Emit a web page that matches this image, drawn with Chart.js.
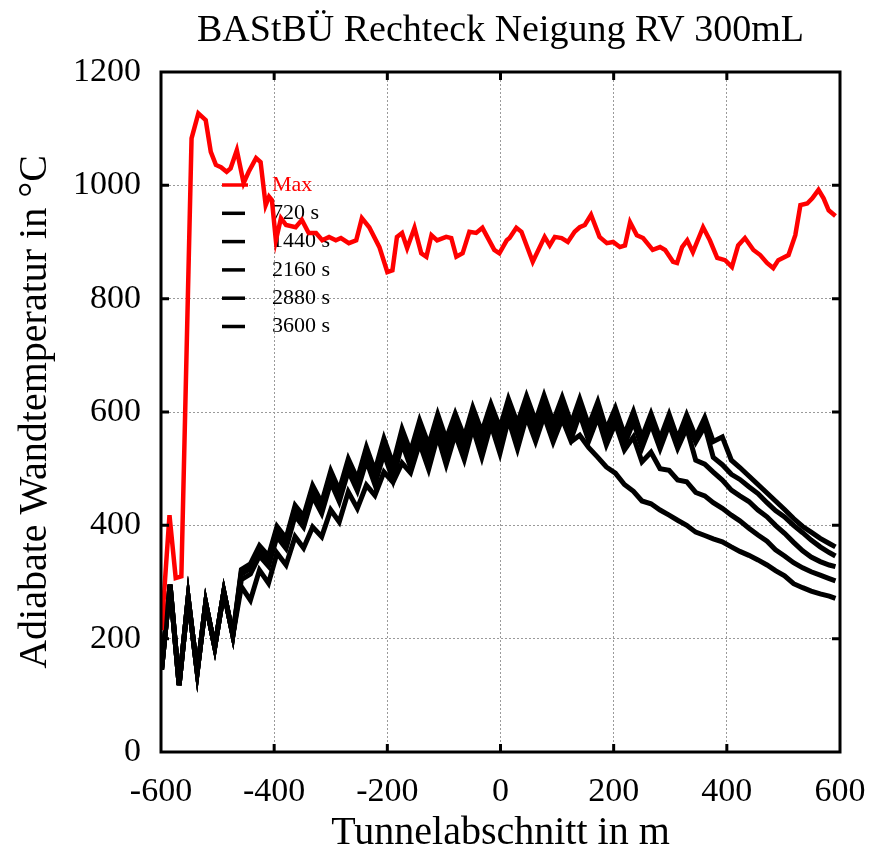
<!DOCTYPE html>
<html>
<head>
<meta charset="utf-8">
<script src="https://cdn.jsdelivr.net/npm/chart.js@4.4.1/dist/chart.umd.min.js"></script>
<style>
  html, body { margin: 0; padding: 0; background: #fff; }
</style>
</head>
<body>
<canvas id="chart" width="871" height="857"></canvas>
<script>
// Maximalwerte (rot)
const maxX = [-599, -585, -574, -564, -546, -534, -521, -512, -503, -494, -484, -477, -466, -454, -445, -432, -424, -415, -409, -404,
  -397, -388, -379, -362, -351, -339, -326, -315, -303, -291, -282, -268, -255, -245, -232, -214, -200, -191, -183, -174,
  -165, -152, -140, -131, -122, -112, -96, -87, -78, -67, -55, -43, -32, -11, -2, 11, 16, 28, 37, 57,
  78, 87, 96, 108, 119, 131, 140, 149, 160, 175, 188, 199, 211, 220, 229, 241, 252, 269, 282, 291,
  305, 312, 321, 330, 340, 358, 370, 383, 397, 409, 420, 432, 447, 459, 471, 482, 491, 509, 521, 530,
  542, 551, 562, 571, 580, 592];
const maxY = [215, 418, 307, 310, 1083, 1127, 1115, 1059, 1036, 1032, 1024, 1030, 1062, 1004, 1024, 1048, 1041, 965, 980, 974,
  903, 942, 930, 926, 939, 916, 916, 903, 909, 903, 907, 898, 903, 942, 926, 891, 847, 850, 909, 916,
  889, 925, 880, 874, 912, 903, 909, 907, 874, 880, 918, 916, 925, 886, 880, 903, 907, 925, 918, 865,
  909, 894, 909, 907, 900, 918, 926, 930, 948, 909, 898, 900, 891, 894, 935, 912, 907, 886, 891, 886,
  865, 863, 891, 903, 882, 926, 903, 872, 868, 856, 894, 907, 886, 877, 863, 854, 868, 877, 912, 965,
  968, 977, 992, 977, 956, 946];

// Zeitschnitte (schwarz), gemeinsame Stuetzstellen
const cellX = [-599, -584, -568, -552, -536, -521, -505, -489, -473, -458, -442, -426, -410, -395, -379, -363, -348, -332, -316, -300,
  -285, -269, -253, -237, -222, -206, -190, -174, -159, -143, -127, -111, -96, -80, -64, -49, -33, -17, -1, 14,
  30, 46, 62, 77, 93, 109, 125, 140, 156, 172, 187, 203, 219, 235, 250, 266, 282, 298, 313, 329,
  345, 361, 376, 392, 408, 423, 439, 455, 471, 486, 502, 518, 534, 549, 565, 581, 592];

const t720 = [145, 295, 118, 272, 141, 263, 185, 283, 206,
  292, 268, 321, 298, 351, 330, 380, 360, 397, 380, 427,
  406, 459, 430, 471, 453, 494, 476, 510, 493, 545,
  499, 558, 507, 561, 516, 572, 520, 578, 527, 587,
  535, 592, 548, 593, 547, 588, 548, 559, 537, 520,
  503, 492, 472, 460, 443, 438, 427, 418, 409, 400,
  388, 382, 376, 371, 362, 354, 347, 339, 330, 320,
  311, 297, 290, 284, 279, 275, 271];
const t1440 = [145, 295, 118, 272, 141, 263, 185, 283, 206,
  304, 314, 346, 328, 380, 359, 417, 397, 451, 421, 476,
  442, 496, 461, 514, 472, 527, 480, 545, 503, 558,
  515, 569, 525, 570, 529, 581, 538, 587, 545, 596,
  553, 601, 557, 602, 556, 599, 553, 596, 549, 591,
  542, 580, 533, 556, 512, 529, 500, 497, 480, 477,
  458, 452, 440, 430, 418, 408, 395, 383, 372, 357,
  346, 334, 325, 318, 312, 306, 302];
const t2160 = [145, 295, 118, 272, 141, 263, 185, 283, 206,
  314, 324, 356, 338, 390, 369, 427, 407, 461, 431, 486,
  452, 506, 471, 525, 483, 539, 493, 554, 512, 567,
  524, 578, 534, 579, 538, 590, 547, 596, 554, 605,
  562, 610, 566, 611, 565, 608, 562, 605, 558, 600,
  551, 589, 542, 583, 537, 579, 535, 578, 536, 572,
  515, 508, 494, 480, 462, 452, 442, 427, 415, 400,
  386, 370, 355, 344, 336, 330, 327];
const t2880 = [145, 295, 118, 272, 141, 263, 185, 283, 206,
  318, 328, 360, 342, 394, 373, 431, 411, 465, 435, 490,
  456, 510, 475, 530, 488, 545, 500, 561, 521, 576,
  533, 587, 543, 588, 547, 599, 556, 605, 563, 614,
  571, 619, 575, 620, 574, 617, 571, 614, 567, 609,
  560, 598, 551, 592, 546, 588, 544, 587, 544, 586,
  547, 575, 520, 507, 490, 481, 468, 456, 440, 426,
  415, 400, 387, 374, 362, 352, 346];
const t3600 = [145, 295, 118, 272, 141, 263, 185, 283, 206,
  322, 332, 364, 346, 398, 377, 435, 416, 470, 440, 496,
  462, 517, 482, 538, 496, 553, 508, 570, 530, 585,
  542, 596, 552, 597, 556, 608, 565, 614, 572, 623,
  580, 628, 584, 629, 583, 626, 580, 623, 576, 618,
  569, 607, 560, 601, 555, 597, 553, 596, 553, 595,
  556, 590, 548, 556, 515, 502, 487, 472, 457, 443,
  428, 412, 398, 388, 377, 368, 362];

const seriesNames = ['Max', '720 s', '1440 s', '2160 s', '2880 s', '3600 s'];
const xTicks = [-600, -400, -200, 0, 200, 400, 600];
const yTicks = [0, 200, 400, 600, 800, 1000, 1200];

const FONT = "'Liberation Serif', 'DejaVu Serif', serif";

const toPts = (xs, ys) => xs.map((x, i) => ({ x: x, y: ys[i] }));

const blackSeries = [t720, t1440, t2160, t2880, t3600];
const datasets = [{
  label: seriesNames[0],
  data: toPts(maxX, maxY),
  borderColor: '#ff0000',
  backgroundColor: '#ff0000',
  borderWidth: 4.5
}];
blackSeries.forEach((s, i) => {
  datasets.push({
    label: seriesNames[i + 1],
    data: toPts(cellX, s),
    borderColor: '#000000',
    backgroundColor: '#000000',
    borderWidth: 5
  });
});

// Rahmen, Innenticks, Legende, Titel
const decor = {
  id: 'decor',
  beforeDatasetsDraw(chart) {
    const ctx = chart.ctx;
    const lx = 222, ly = 185, row = 28.3;
    ctx.save();
    ctx.font = '22px ' + FONT;
    ctx.textBaseline = 'middle';
    ctx.textAlign = 'left';
    chart.data.datasets.forEach((ds, i) => {
      const y = ly + i * row;
      ctx.strokeStyle = ds.borderColor;
      ctx.lineWidth = 3.5;
      ctx.beginPath();
      ctx.moveTo(lx, y);
      ctx.lineTo(lx + (i === 0 ? 26 : 23), y);
      ctx.stroke();
      ctx.fillStyle = ds.borderColor;
      ctx.fillText(ds.label, 272, y);
    });
    ctx.restore();
  },
  afterDatasetsDraw(chart) {
    const ctx = chart.ctx;
    const a = chart.chartArea;
    const xs = chart.scales.x, ys = chart.scales.y;
    const tl = 8;
    ctx.save();
    ctx.strokeStyle = '#000';
    ctx.lineWidth = 3;
    ctx.beginPath();
    xTicks.slice(1, -1).forEach(v => {
      const px = xs.getPixelForValue(v);
      ctx.moveTo(px, a.bottom); ctx.lineTo(px, a.bottom - tl);
      ctx.moveTo(px, a.top); ctx.lineTo(px, a.top + tl);
    });
    yTicks.slice(1, -1).forEach(v => {
      const py = ys.getPixelForValue(v);
      ctx.moveTo(a.left, py); ctx.lineTo(a.left + tl, py);
      ctx.moveTo(a.right, py); ctx.lineTo(a.right - tl, py);
    });
    ctx.stroke();
    ctx.strokeRect(a.left, a.top, a.right - a.left, a.bottom - a.top);
    ctx.restore();
  },
  afterDraw(chart) {
    const ctx = chart.ctx;
    const a = chart.chartArea;
    ctx.save();
    ctx.font = '38px ' + FONT;
    ctx.fillStyle = '#000';
    ctx.textAlign = 'center';
    ctx.textBaseline = 'middle';
    ctx.fillText('BAStBÜ Rechteck Neigung RV 300mL', (a.left + a.right) / 2, 31);
    ctx.restore();
  }
};

const ctx = document.getElementById('chart').getContext('2d');
new Chart(ctx, {
  type: 'line',
  data: { datasets: datasets },
  plugins: [decor],
  options: {
    responsive: false,
    animation: false,
    devicePixelRatio: 1,
    layout: { padding: { top: 72, right: 31, left: 0, bottom: 0 } },
    elements: {
      point: { radius: 0, hoverRadius: 0 },
      line: { tension: 0 }
    },
    plugins: {
      legend: { display: false },
      tooltip: { enabled: false },
      title: { display: false }
    },
    scales: {
      x: {
        type: 'linear',
        min: -600,
        max: 600,
        afterBuildTicks: s => { s.ticks = xTicks.map(v => ({ value: v })); },
        afterFit: s => { s.height = 105; s.paddingLeft = 0; s.paddingRight = 0; },
        ticks: { color: '#000', font: { family: FONT, size: 34 }, padding: 20, maxRotation: 0, callback: v => String(v) },
        grid: { color: '#9a9a9a', lineWidth: 1, drawTicks: false },
        border: { display: false, dash: [2, 2] },
        title: { display: true, text: 'Tunnelabschnitt in m', color: '#000', font: { family: FONT, size: 40 }, padding: { top: 0, bottom: 0 } }
      },
      y: {
        type: 'linear',
        min: 0,
        max: 1200,
        afterBuildTicks: s => { s.ticks = yTicks.map(v => ({ value: v })); },
        afterFit: s => { s.width = 161; s.paddingTop = 0; s.paddingBottom = 0; },
        ticks: { color: '#000', font: { family: FONT, size: 34 }, padding: 20, callback: v => String(v) },
        grid: { color: '#9a9a9a', lineWidth: 1, drawTicks: false },
        border: { display: false, dash: [2, 2] },
        title: { display: true, text: 'Adiabate Wandtemperatur in °C', color: '#000', font: { family: FONT, size: 40 }, padding: { top: 11, bottom: 0 } }
      }
    }
  }
});
</script>
</body>
</html>
